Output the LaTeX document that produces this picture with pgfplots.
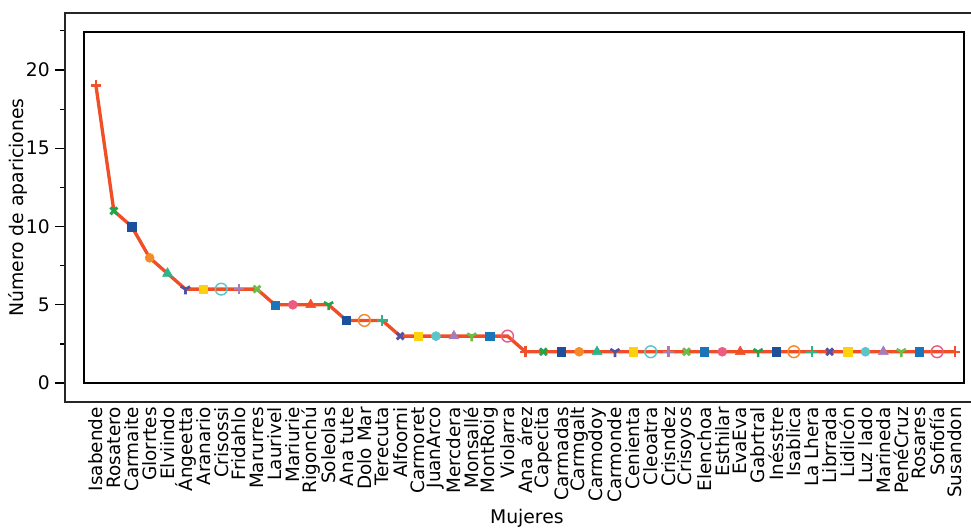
\documentclass[border=0pt]{standalone}
\usepackage{fontspec}
\setmainfont{DejaVu Sans}
\usepackage{pgfplots}
\pgfplotsset{compat=1.18}
\usetikzlibrary{plotmarks}
\definecolor{linec}{HTML}{F04E26}
\definecolor{c0}{HTML}{F0502A}
\definecolor{c1}{HTML}{1DA64A}
\definecolor{c2}{HTML}{1C4F9C}
\definecolor{c3}{HTML}{F58A2A}
\definecolor{c4}{HTML}{2EB38A}
\definecolor{c5}{HTML}{5552A2}
\definecolor{c6}{HTML}{FDD10C}
\definecolor{c7}{HTML}{5CC5C8}
\definecolor{c8}{HTML}{A77DB9}
\definecolor{c9}{HTML}{6CBD45}
\definecolor{c10}{HTML}{1B75BB}
\definecolor{c11}{HTML}{EC5B82}
\pgfplotsset{
 mk0/.style={only marks, forget plot, mark=+, mark size=4pt, mark options={draw=#1, line width=1.8pt}},
 mk1/.style={only marks, forget plot, mark=x, mark size=3.6pt, mark options={draw=#1, line width=2.2pt}},
 mk2/.style={only marks, forget plot, mark=square*, mark size=3.1pt, mark options={draw=#1, fill=#1, line width=0.2pt}},
 mk3/.style={only marks, forget plot, mark=*, mark size=3.4pt, mark options={draw=#1, fill=#1}},
 mk4/.style={only marks, forget plot, mark=triangle*, mark size=4.3pt, mark options={draw=#1, fill=#1}},
 mk5/.style={only marks, forget plot, mark=Mercedes star flipped, mark size=4pt, mark options={draw=#1, line width=2pt}},
 mk6/.style={only marks, forget plot, mark=square*, mark size=3.1pt, mark options={draw=#1, fill=#1, line width=0.2pt}},
 mk7/.style={only marks, forget plot, mark=o, mark size=4.4pt, mark options={draw=#1, line width=1.1pt, fill=none}},
}
\begin{document}
\begin{tikzpicture}
\begin{axis}[
 scale only axis, width=690pt, height=291.75pt,
 at={(0,0)}, anchor=south west,
 xmin=-1.73, xmax=49.68, ymin=-1.21, ymax=23.64,
 axis line style={line width=1.2pt, draw=black!85},
 /pgf/number format/assume math mode=true,
 xtick={0,...,48},
 xticklabels={Isabende, Rosatero, Carmaite, Glorrtes, Elviindo, Ángeetta, Aranario, Crisossi, Fridahlo, Marurres, Laurivel, Mariurie, Rigonchú, Soleolas, Ana tute, Dolo Mar, Terecuta, Alfoorni, Carmoret, JuanArco, Mercdera, Monsallé, MontRoig, Violarra, Ana\ \ árez, Capecita, Carmadas, Carmgalt, Carmodoy, Carmonde, Cenienta, Cleoatra, Crisndez, Crisoyos, Elenchoa, Esthilar, EvaEva, Gabrtral, Inésstre, Isablica, La Lhera, Librrada, Lidilcón, Luz lado, Marineda, PenéCruz, Rosares, Sofiofía, Susandon},
 xtick style={draw=none},
 ytick={0,5,10,15,20},
 minor ytick={2.5,7.5,12.5,17.5,22.5},
 tick pos=left, tick align=outside,
 ytick style={line width=0.9pt, black},
 major tick length=7.5pt, minor tick length=3.75pt,
 xticklabel style={rotate=90, anchor=east, inner sep=0pt, font=\fontsize{13.8}{15}\selectfont},
 xticklabel shift=-3.75pt,
 yticklabel style={inner sep=0pt, font=\fontsize{14}{15}\selectfont},
 yticklabel shift=3.75pt,
 ylabel={Número de apariciones},
 xlabel={Mujeres},
 ylabel style={at={(axis description cs:-0.0511,0.5)}, anchor=center, font=\fontsize{14.1}{16}\selectfont},
 xlabel style={at={(axis description cs:0.502,-0.298)}, anchor=center, font=\fontsize{14.1}{16}\selectfont},
 clip=false,
]
\draw[line width=1.2pt, black] (axis cs:-0.67,0) rectangle (axis cs:48.5,22.43);
\addplot[mk0=c0] coordinates {(0,19)};
\addplot[mk1=c1] coordinates {(1,11)};
\addplot[mk2=c2] coordinates {(2,10)};
\addplot[mk3=c3] coordinates {(3,8)};
\addplot[mk4=c4] coordinates {(4,7)};
\addplot[mk5=c5] coordinates {(5,6)};
\addplot[mk6=c6] coordinates {(6,6)};
\addplot[mk7=c7] coordinates {(7,6)};
\addplot[mk0=c8] coordinates {(8,6)};
\addplot[mk1=c9] coordinates {(9,6)};
\addplot[mk2=c10] coordinates {(10,5)};
\addplot[mk3=c11] coordinates {(11,5)};
\addplot[mk4=c0] coordinates {(12,5)};
\addplot[mk5=c1] coordinates {(13,5)};
\addplot[mk6=c2] coordinates {(14,4)};
\addplot[mk7=c3] coordinates {(15,4)};
\addplot[mk0=c4] coordinates {(16,4)};
\addplot[mk1=c5] coordinates {(17,3)};
\addplot[mk2=c6] coordinates {(18,3)};
\addplot[mk3=c7] coordinates {(19,3)};
\addplot[mk4=c8] coordinates {(20,3)};
\addplot[mk5=c9] coordinates {(21,3)};
\addplot[mk6=c10] coordinates {(22,3)};
\addplot[mk7=c11] coordinates {(23,3)};
\addplot[mk0=c0] coordinates {(24,2)};
\addplot[mk1=c1] coordinates {(25,2)};
\addplot[mk2=c2] coordinates {(26,2)};
\addplot[mk3=c3] coordinates {(27,2)};
\addplot[mk4=c4] coordinates {(28,2)};
\addplot[mk5=c5] coordinates {(29,2)};
\addplot[mk6=c6] coordinates {(30,2)};
\addplot[mk7=c7] coordinates {(31,2)};
\addplot[mk0=c8] coordinates {(32,2)};
\addplot[mk1=c9] coordinates {(33,2)};
\addplot[mk2=c10] coordinates {(34,2)};
\addplot[mk3=c11] coordinates {(35,2)};
\addplot[mk4=c0] coordinates {(36,2)};
\addplot[mk5=c1] coordinates {(37,2)};
\addplot[mk6=c2] coordinates {(38,2)};
\addplot[mk7=c3] coordinates {(39,2)};
\addplot[mk0=c4] coordinates {(40,2)};
\addplot[mk1=c5] coordinates {(41,2)};
\addplot[mk2=c6] coordinates {(42,2)};
\addplot[mk3=c7] coordinates {(43,2)};
\addplot[mk4=c8] coordinates {(44,2)};
\addplot[mk5=c9] coordinates {(45,2)};
\addplot[mk6=c10] coordinates {(46,2)};
\addplot[mk7=c11] coordinates {(47,2)};
\addplot[mk0=c0] coordinates {(48,2)};
\addplot[line width=2.5pt, color=linec, no marks, forget plot] coordinates {
(0,19) (1,11) (2,10) (3,8) (4,7) (5,6) (6,6) (7,6) (8,6) (9,6)
(10,5) (11,5) (12,5) (13,5) (14,4) (15,4) (16,4)
(17,3) (18,3) (19,3) (20,3) (21,3) (22,3) (23,3)
(24,2) (25,2) (26,2) (27,2) (28,2) (29,2) (30,2) (31,2) (32,2) (33,2) (34,2) (35,2) (36,2)
(37,2) (38,2) (39,2) (40,2) (41,2) (42,2) (43,2) (44,2) (45,2) (46,2) (47,2) (48,2)};
\end{axis}
\pgfresetboundingbox
\path[use as bounding box] (-48.75pt,-95.25pt) rectangle (679.5pt,301.5pt);
\end{tikzpicture}
\end{document}
